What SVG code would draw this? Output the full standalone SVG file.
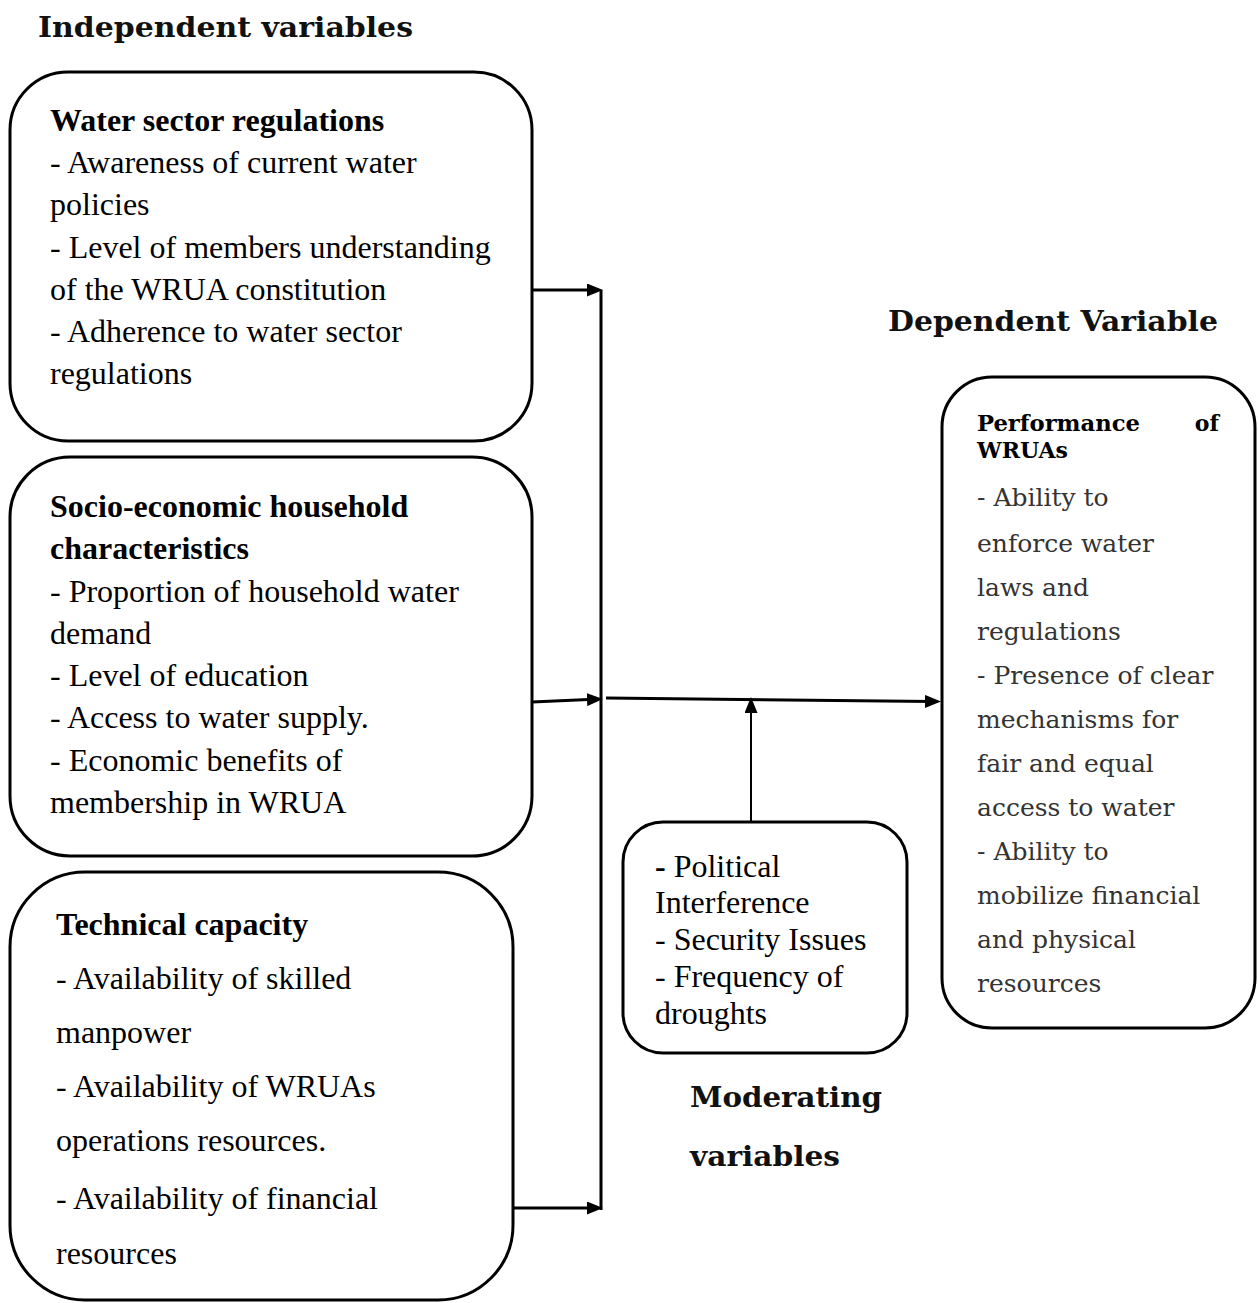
<svg xmlns="http://www.w3.org/2000/svg" width="1258" height="1303" viewBox="0 0 1258 1303">
<style>
.box{fill:#fff;stroke:#000;stroke-width:3}
.hd{font-family:"DejaVu Serif","Liberation Serif",serif;font-weight:bold;font-size:28px;fill:#111}
.t{font-family:"Liberation Serif","Times New Roman",serif;font-size:32px;fill:#000}
.tb{font-family:"Liberation Serif","Times New Roman",serif;font-size:32px;font-weight:bold;fill:#000}
.d{font-family:"DejaVu Serif","Liberation Serif",serif;font-size:25px;fill:#333}
.db{font-family:"DejaVu Serif","Liberation Serif",serif;font-size:22px;font-weight:bold;fill:#000}
.c{fill:none;stroke:#000;stroke-width:3}
.c2{fill:none;stroke:#000;stroke-width:2}
</style>
<defs>
<marker id="ah" viewBox="0 0 16 13" refX="7" refY="6.5" markerWidth="16" markerHeight="13" orient="auto" markerUnits="userSpaceOnUse">
<path d="M0,0 L16,6.5 L0,13 z" fill="#000"/>
</marker>
</defs>

<text class="hd" x="38" y="37" textLength="375" lengthAdjust="spacingAndGlyphs">Independent variables</text>
<text class="hd" x="888" y="331" textLength="330" lengthAdjust="spacingAndGlyphs">Dependent Variable</text>
<text class="hd" x="690" y="1107" textLength="192" lengthAdjust="spacingAndGlyphs">Moderating</text>
<text class="hd" x="690" y="1166" textLength="150" lengthAdjust="spacingAndGlyphs">variables</text>

<g id="connectors">
<path class="c" d="M601,290 L601,1210"/>
<path class="c" d="M532,290 L594,290" marker-end="url(#ah)"/>
<path class="c" d="M532,702 L594,699.3" marker-end="url(#ah)"/>
<path class="c" d="M512,1208 L594,1208" marker-end="url(#ah)"/>
<path class="c" d="M606,698 L932,701.5" marker-end="url(#ah)"/>
<path class="c2" d="M751,822 L751,706" marker-end="url(#ah)"/>
</g>

<g id="water-sector">
<rect class="box" x="10" y="72" width="522" height="369" rx="58" ry="58"/>
<text class="tb" x="50" y="131">Water sector regulations</text>
<text class="t" x="50" y="173">- Awareness of current water</text>
<text class="t" x="50" y="215">policies</text>
<text class="t" x="50" y="258">- Level of members understanding</text>
<text class="t" x="50" y="300">of the WRUA constitution</text>
<text class="t" x="50" y="342">- Adherence to water sector</text>
<text class="t" x="50" y="384">regulations</text>
</g>

<g id="socio-economic">
<rect class="box" x="10" y="457" width="522" height="399" rx="60" ry="60"/>
<text class="tb" x="50" y="517">Socio-economic household</text>
<text class="tb" x="50" y="559">characteristics</text>
<text class="t" x="50" y="602">- Proportion of household water</text>
<text class="t" x="50" y="644">demand</text>
<text class="t" x="50" y="686">- Level of education</text>
<text class="t" x="50" y="728">- Access to water supply.</text>
<text class="t" x="50" y="771">- Economic benefits of</text>
<text class="t" x="50" y="813">membership in WRUA</text>
</g>

<g id="technical-capacity">
<rect class="box" x="10" y="872" width="503" height="428" rx="75" ry="75"/>
<text class="tb" x="56" y="935">Technical capacity</text>
<text class="t" x="56" y="989">- Availability of skilled</text>
<text class="t" x="56" y="1043">manpower</text>
<text class="t" x="56" y="1097">- Availability of WRUAs</text>
<text class="t" x="56" y="1151">operations resources.</text>
<text class="t" x="56" y="1209">- Availability of financial</text>
<text class="t" x="56" y="1264">resources</text>
</g>

<g id="moderating">
<rect class="box" x="623" y="822" width="284" height="231" rx="40" ry="40"/>
<text class="t" x="655" y="877"><tspan font-weight="bold">-</tspan> Political</text>
<text class="t" x="655" y="913">Interference</text>
<text class="t" x="655" y="950">- Security Issues</text>
<text class="t" x="655" y="987">- Frequency of</text>
<text class="t" x="655" y="1024">droughts</text>
</g>

<g id="performance">
<rect class="box" x="942" y="377" width="313" height="651" rx="50" ry="50"/>
<text class="db" x="977" y="431" textLength="163" lengthAdjust="spacingAndGlyphs">Performance</text>
<text class="db" x="1219" y="431" text-anchor="end">of</text>
<text class="db" x="977" y="458">WRUAs</text>
<text class="d" x="977" y="506">- Ability to</text>
<text class="d" x="977" y="552">enforce water</text>
<text class="d" x="977" y="596">laws and</text>
<text class="d" x="977" y="640">regulations</text>
<text class="d" x="977" y="684">- Presence of clear</text>
<text class="d" x="977" y="728">mechanisms for</text>
<text class="d" x="977" y="772">fair and equal</text>
<text class="d" x="977" y="816">access to water</text>
<text class="d" x="977" y="860">- Ability to</text>
<text class="d" x="977" y="904">mobilize financial</text>
<text class="d" x="977" y="948">and physical</text>
<text class="d" x="977" y="992">resources</text>
</g>
</svg>
